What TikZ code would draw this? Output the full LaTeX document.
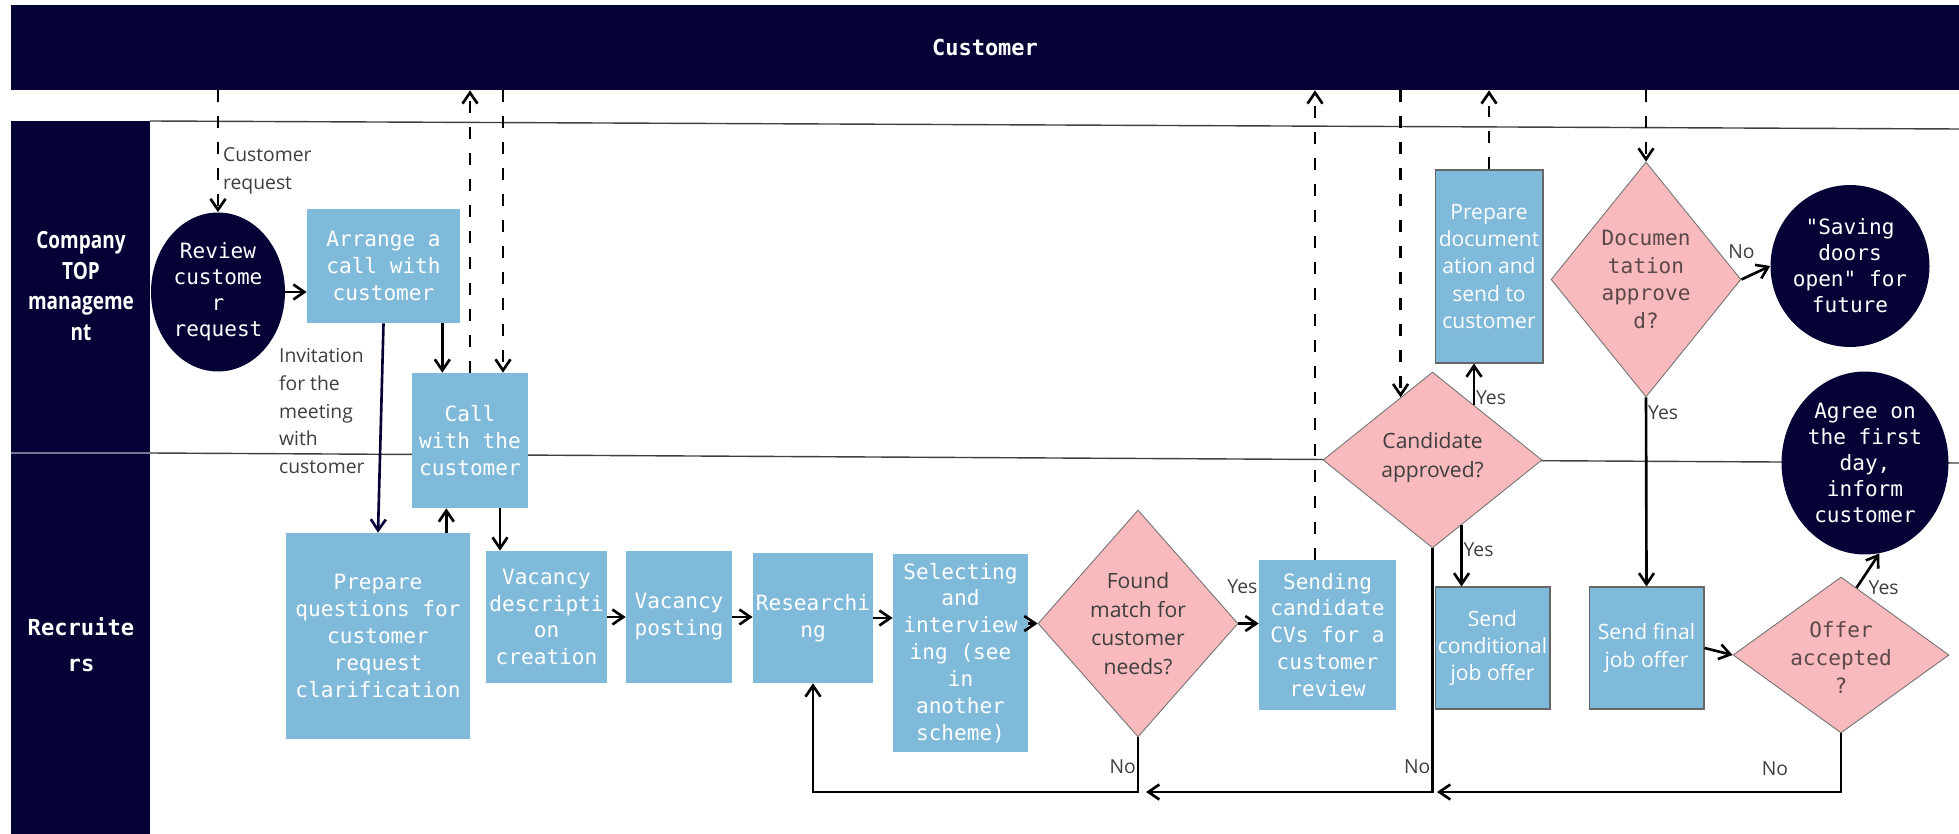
\documentclass[tikz,border=0pt]{standalone}
\usepackage{fontspec}
\setmainfont{Open Sans}
\newfontfamily\monofont{DejaVu Sans Mono}
\newfontfamily\narrowfont[FakeStretch=0.8]{Open Sans}
\usepackage{tikz}
\usetikzlibrary{shapes.geometric}
\usetikzlibrary{arrows.meta}
\usetikzlibrary{positioning}

\definecolor{navy}{RGB}{5,2,54}
\definecolor{boxblue}{RGB}{128,186,218}
\definecolor{rosefill}{RGB}{248,186,188}
\definecolor{rosetext}{RGB}{92,72,74}
\definecolor{labelgray}{RGB}{62,62,62}

\tikzset{
  >={Straight Barb[length=2.2mm,width=3mm]},
  lanebar/.style={rectangle, fill=navy, draw=none, inner sep=0pt},
  lanetitle/.style={text=white, align=center, font=\narrowfont\bfseries\fontsize{13.5}{17.4}\selectfont},
  lanemono/.style={text=white, align=center, font=\monofont\bfseries\fontsize{12.6}{20.5}\selectfont},
  taskbox/.style={rectangle, fill=boxblue, text=white, align=center, inner sep=0pt,
    font=\monofont\fontsize{12}{15.3}\selectfont},
  sanstext/.style={font=\fontsize{12}{15.6}\selectfont},
  framed/.style={draw=black!60, line width=0.6pt},
  terminal/.style={ellipse, fill=navy, draw=none, inner sep=0pt},
  termtext/.style={text=white, align=center, font=\monofont\fontsize{12}{14.8}\selectfont},
  decision/.style={diamond, fill=rosefill, draw=black!55, line width=0.5pt, inner sep=0pt},
  decsans/.style={text=labelgray, align=center, font=\fontsize{12}{16.2}\selectfont},
  decmono/.style={text=rosetext, align=center, font=\monofont\fontsize{12}{15.8}\selectfont},
  flowline/.style={->, line width=1.5pt},
  msgline/.style={->, line width=1.5pt, dash pattern=on 0.24cm off 0.28cm},
  lbl/.style={text=labelgray, align=left, inner sep=1pt, font=\fontsize{11}{15.9}\selectfont}
}

\begin{document}
\begin{tikzpicture}[x=0.02cm,y=-0.02cm]
\useasboundingbox (0,0) rectangle (1959,834);

% lanes
\node[lanebar, minimum width=38.96cm, minimum height=1.7cm, text=white,
  font=\monofont\bfseries\fontsize{12.5}{14}\selectfont] (banner) at (985,47.5) {Customer};
\node[lanebar, minimum width=2.78cm, minimum height=14.26cm] (lanecol) at (80.5,477.5) {};
\draw[black!75, line width=0.8pt] (150,121) -- (1959,129);
\draw[black!75, line width=0.8pt] (150,453) -- (1959,463);
\draw[navy!55!white, line width=0.8pt] (11,453) -- (150,453);
\node[lanetitle] (toplane) at (81,286) {Company\\TOP\\manageme\\nt};
\node[lanemono] (reclane) at (81,645) {Recruite\\rs};

% tasks
\node[taskbox, minimum width=3.06cm, minimum height=2.28cm] (arrange) at (383.5,266) {Arrange a\\call with\\customer};
\node[taskbox, minimum width=2.32cm, minimum height=2.7cm] (call) at (470,440.5) {Call\\with the\\customer};
\node[taskbox, minimum width=3.68cm, minimum height=4.12cm] (prepq) at (378,636) {Prepare\\questions for\\customer\\request\\clarification};
\node[taskbox, minimum width=2.42cm, minimum height=2.64cm] (vacdesc) at (546.5,617) {Vacancy\\descripti\\on\\creation};
\node[taskbox, minimum width=2.12cm, minimum height=2.64cm] (vacpost) at (679,617) {Vacancy\\posting};
\node[taskbox, minimum width=2.4cm, minimum height=2.6cm] (research) at (813,618) {Researchi\\ng};
\node[taskbox, minimum width=2.7cm, minimum height=3.96cm] (select) at (960.5,653) {Selecting\\and\\interview\\ing (see\\in\\another\\scheme)};
\node[taskbox, minimum width=2.74cm, minimum height=3cm] (sending) at (1327.5,635) {Sending\\candidate\\CVs for a\\customer\\review};
\node[taskbox, sanstext, framed, minimum width=2.16cm, minimum height=3.86cm] (prepdoc) at (1489,266.5) {Prepare\\document\\ation and\\send to\\customer};
\node[taskbox, sanstext, framed, minimum width=2.3cm, minimum height=2.44cm] (sendcond) at (1492.5,648) {Send\\conditional\\job offer};
\node[taskbox, sanstext, framed, minimum width=2.3cm, minimum height=2.44cm] (sendfinal) at (1646.5,648) {Send final\\job offer};

% start and end points
\node[terminal, minimum width=2.68cm, minimum height=3.18cm] (review) at (218,292) {};
\node[termtext] (reviewtxt) at (review) {Review\\custome\\r\\request};
\node[terminal, minimum width=3.18cm, minimum height=3.24cm] (saving) at (1850,266) {};
\node[termtext] (savingtxt) at (saving) {"Saving\\doors\\open" for\\future};
\node[terminal, minimum width=3.34cm, minimum height=3.66cm] (agree) at (1865,463) {};
\node[termtext] (agreetxt) at (agree) {Agree on\\the first\\day,\\inform\\customer};

% decisions
\node[decision, minimum width=4cm, minimum height=4.54cm] (found) at (1138,623.5) {};
\node[decsans] (foundtxt) at (found) {Found\\match for\\customer\\needs?};
\node[decision, minimum width=4.38cm, minimum height=3.52cm] (cand) at (1432.5,460) {};
\node[decsans] (candtxt) at ([yshift=0.05cm]cand) {Candidate\\approved?};
\node[decision, minimum width=3.8cm, minimum height=4.7cm] (doc) at (1646,279.5) {};
\node[decmono] (doctxt) at (doc) {Documen\\tation\\approve\\d?};
\node[decision, minimum width=4.32cm, minimum height=3.12cm] (offer) at (1841,655) {};
\node[decmono] (offertxt) at ([yshift=-0.05cm]offer) {Offer\\accepted\\?};

% junctions on the bottom rail
\coordinate (railjoin) at (1146,792);
\coordinate (railend) at (1437,792);
\coordinate (arrcall) at ([xshift=-0.36cm]arrange.south east);
\coordinate (callin) at ([xshift=0.66cm]call.north);
\coordinate (prepqout) at ([xshift=-0.48cm]prepq.north east);
\coordinate (callout) at ([xshift=0.6cm]call.south);
\coordinate (sendout) at ([xshift=-0.25cm]sending.north);

% management lane
\draw[msgline] (review.north |- banner.south) -- (review.north);
\node[lbl, anchor=west] (reqlbl) at (221,171) {Customer\\request};
\draw[flowline] (review.east) -- (review.east -| arrange.west);
\draw[flowline, navy] (arrange.south) -- (prepq.north);
\node[lbl, anchor=west] (invlbl) at (277,411) {Invitation\\for the\\meeting\\with\\customer};
\draw[flowline] (arrcall) -- (arrcall |- call.north);
\draw[msgline] (call.north) -- (call.north |- banner.south);
\draw[msgline] (callin |- banner.south) -- (callin);

% recruiters lane
\draw[flowline] (prepqout) -- (prepqout |- call.south);
\draw[flowline] (callout) -- (callout |- vacdesc.north);
\draw[flowline] (vacdesc.east) -- (vacdesc.east -| vacpost.west);
\draw[flowline] (vacpost.east) -- (vacpost.east -| research.west);
\draw[flowline] (research.east) -- (research.east -| select.west);
\draw[flowline] (found.west -| select.east) -- (found.west);
\draw[flowline] (found.east) -- (found.east -| sending.west);
\node[lbl] (yesfound) at ([xshift=0.08cm,yshift=0.74cm]found.east) {Yes};
\draw[flowline] (found.south) -- (found.south |- railjoin) -| (research.south);
\node[lbl, left] (nofound) at ([yshift=-0.58cm]found.south) {No};
\draw[msgline] (sendout) -- (sendout |- banner.south);

% approval
\draw[msgline] (cand.117 |- banner.south) -- (cand.117);
\draw[flowline] (cand.53) -- (cand.53 |- prepdoc.south);
\node[lbl, right] (yesdoc) at ([yshift=0.14cm]cand.53) {Yes};
\draw[msgline] (prepdoc.north) -- (prepdoc.north |- banner.south);
\draw[flowline] (cand.-66) -- (cand.-66 |- sendcond.north);
\node[lbl, right] (yescond) at ([yshift=-0.5cm]cand.-66) {Yes};
\draw[flowline] (cand.south) |- (railjoin);
\node[lbl, left] (nocand) at ([yshift=-4.36cm]cand.south) {No};

\draw[msgline] (doc.north |- banner.south) -- (doc.north);
\draw[flowline] (doc.east) -- (saving.west);
\node[lbl] (nodoc) at ([yshift=0.56cm]doc.east) {No};
\draw[flowline] (doc.south) -- (sendfinal.north);
\node[lbl, right] (yesfinal) at ([yshift=-0.3cm]doc.south) {Yes};
\draw[flowline] (sendfinal.east) -- (offer.west);
\draw[flowline] (offer.77) -- (agree.-81);
\node[lbl, right] (yesoffer) at ([xshift=0.2cm]offer.77) {Yes};
\draw[flowline] (offer.south) |- (railend);
\node[lbl] (nooffer) at ([xshift=-1.32cm,yshift=-0.7cm]offer.south) {No};
\end{tikzpicture}
\end{document}
